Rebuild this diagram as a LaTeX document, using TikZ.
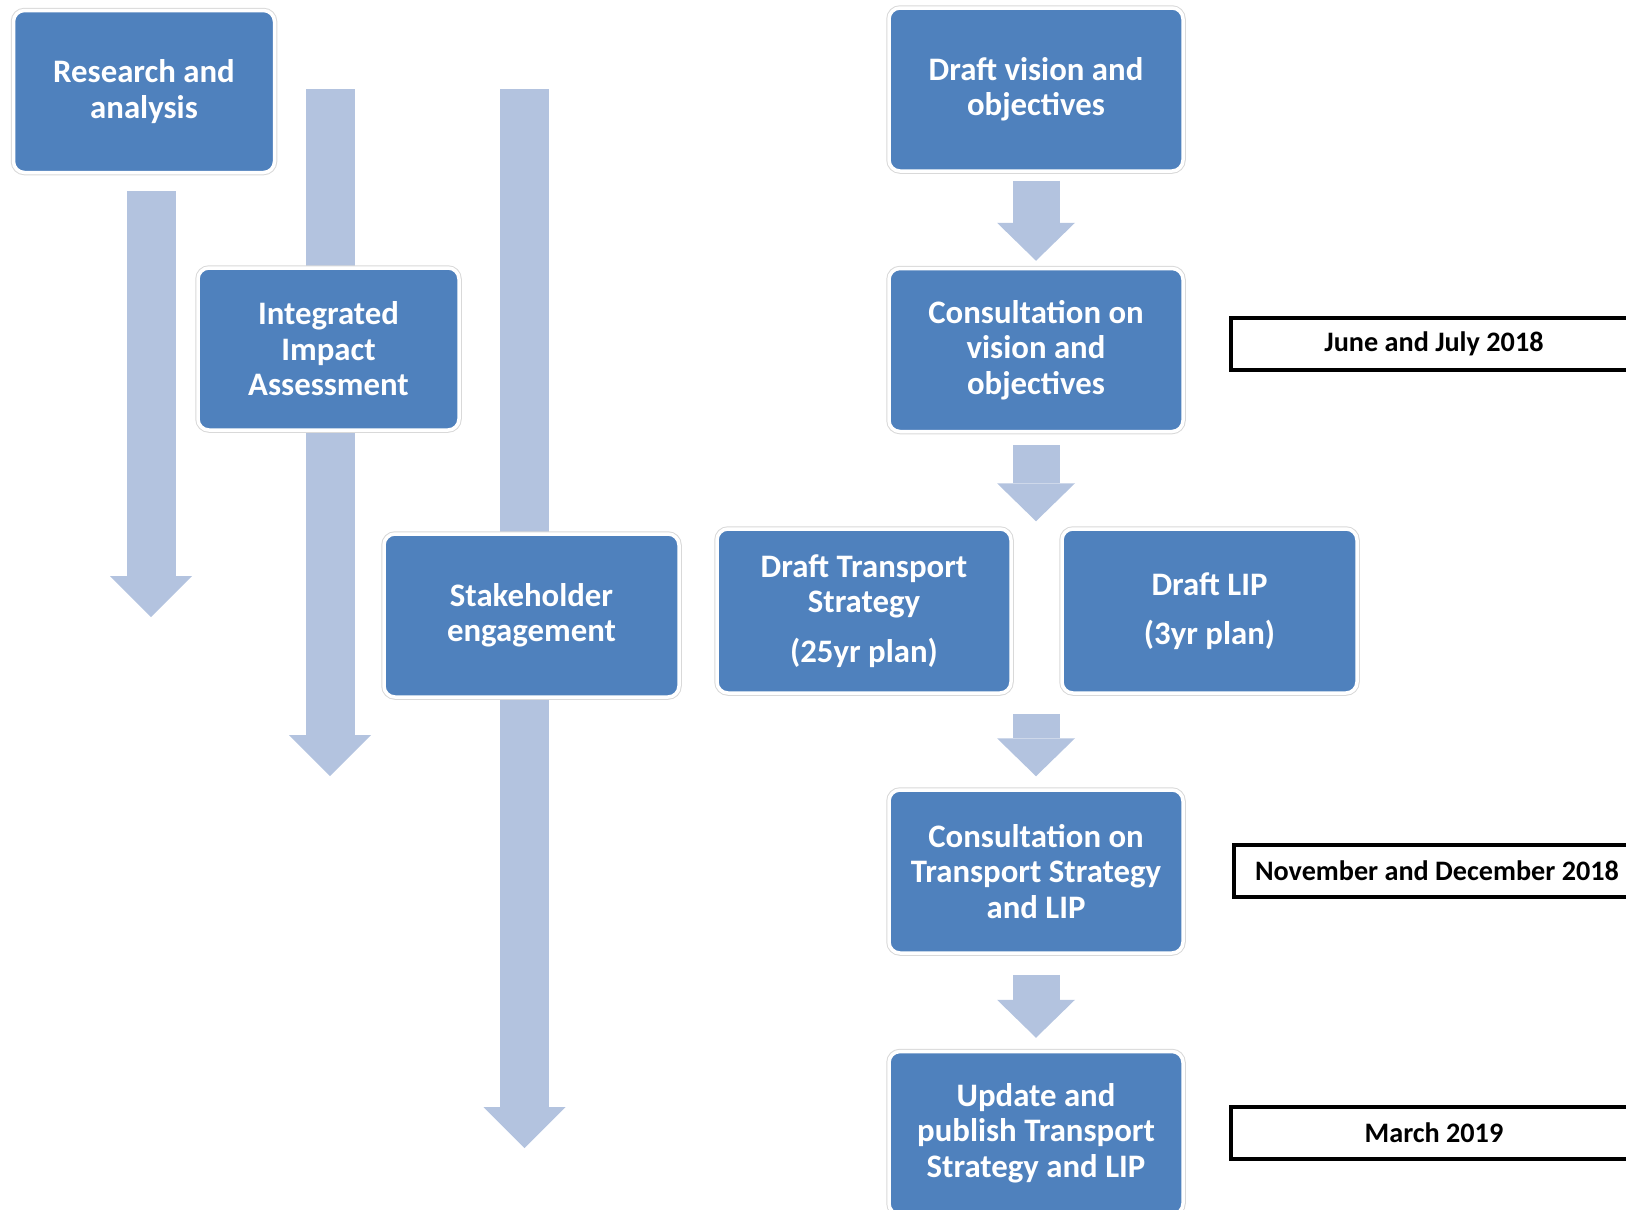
\documentclass[tikz,border=0pt]{standalone}
\usepackage{fontspec}
\setmainfont{Carlito}
\usepackage{xcolor}
\usepackage{tikz}
\usetikzlibrary{positioning,arrows.meta}

\definecolor{boxblue}{HTML}{4F81BD}
\definecolor{arrowblue}{HTML}{B3C3DF}

\begin{document}
\begin{tikzpicture}[x=1pt, y=-1pt, every node/.style={align=center},
    stepbox/.style={fill=boxblue, draw=white, line width=3.5pt, rounded corners=11pt,
        preaction={draw=black!15, line width=5.5pt},
        text=white, font=\fontsize{32.8}{35.5}\selectfont\bfseries,
        minimum width=294pt, minimum height=163pt, inner sep=0pt},
    datebox/.style={draw=black, line width=4pt, fill=white,
        font=\fontsize{28.2}{32}\selectfont\bfseries,
        minimum width=406pt, minimum height=52pt, inner sep=0pt},
    bigarrow/.style={draw=arrowblue, line width=49pt,
        -{Triangle[length=41pt, width=82pt, line width=0pt]}},
    smallarrow/.style={draw=arrowblue, line width=47pt,
        -{Triangle[length=38pt, width=78pt, line width=0pt]}}]
    \useasboundingbox (0,0) rectangle (1626,1210);
    \clip (0,0) rectangle (1626,1210);

    % long arrows behind the left column
    \coordinate (research end) at (151,617);
    \coordinate (iia top) at (330,89);
    \coordinate (iia end) at (330,776);
    \coordinate (stake top) at (524.5,89);
    \coordinate (stake end) at (524.5,1148);
    \draw[bigarrow] (iia top) -- (iia end);
    \draw[bigarrow] (stake top) -- (stake end);

    \node[stepbox, minimum width=261pt, minimum height=162pt] (research) at (144,91.5) {Research and\\analysis};
    \node[stepbox, minimum width=261pt, minimum height=162pt] (iia) at (328.5,349) {Integrated\\Impact\\Assessment};
    \node[stepbox, minimum width=295pt] (stake) at (531.5,615.5) {Stakeholder\\engagement};
    \draw[bigarrow, shorten <=17pt] (research.south -| research end) -- (research end);

    % main sequence
    \node[stepbox] (vision) at (1036,89.5) {Draft vision and\\objectives};
    \node[stepbox] (consvis) at (1036,350) {Consultation on\\vision and\\objectives};
    \node[stepbox, minimum height=164pt] (drafts) at (864,611) {Draft Transport\\Strategy\\[14pt](25yr plan)};
    \node[stepbox, minimum width=295pt, minimum height=164pt] (draftlip) at (1209.5,611) {Draft LIP\\[14pt](3yr plan)};
    \node[stepbox] (consts) at (1036,871.5) {Consultation on\\Transport Strategy\\and LIP};
    \node[stepbox] (update) at (1036,1133) {Update and\\publish Transport\\Strategy and LIP};

    \draw[smallarrow, shorten <=8pt, shorten >=6pt] (vision.south) -- (consvis.north);
    \draw[smallarrow, shorten <=12pt, shorten >=6pt] (consvis.south) -- (consvis.south |- drafts.north);
    \draw[smallarrow, shorten <=19pt, shorten >=12pt] (drafts.south -| consts) -- (consts.north);
    \draw[smallarrow, shorten <=20pt, shorten >=12pt] (consts.south) -- (update.north);

    % dates
    \node[datebox] (june) at (1434,343.5) {June and July 2018};
    \node[datebox] (nov) at (1437,871) {November and December 2018};
    \node[datebox] (march) at (1434,1132.5) {March 2019};
\end{tikzpicture}
\end{document}
